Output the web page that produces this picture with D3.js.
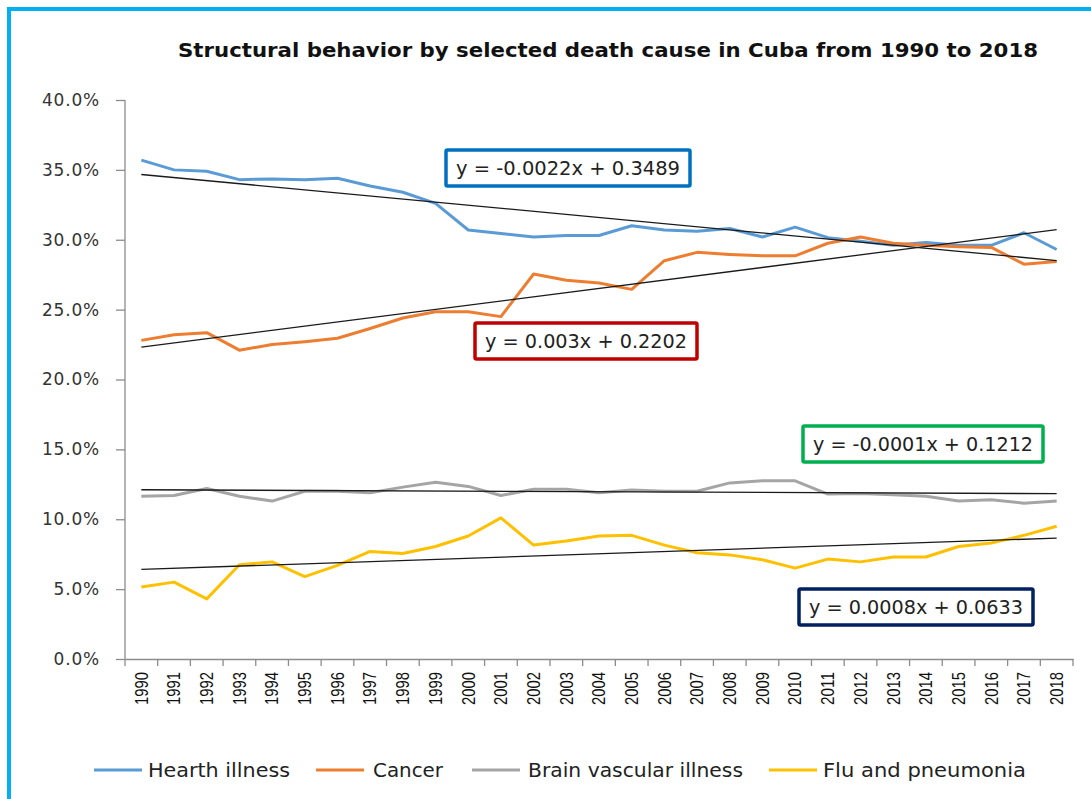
<!DOCTYPE html>
<html>
<head>
<meta charset="utf-8">
<script src="https://cdn.jsdelivr.net/npm/d3@7"></script>
<style>
  body { margin: 0; background: #fff; }
  svg { display: block; }
</style>
</head>
<body>
<svg id="chart"></svg>
<script>
const years = d3.range(1990, 2019).map(String);

const hearth = [35.7, 35.0, 34.9, 34.3, 34.35, 34.3, 34.4, 33.85, 33.4, 32.6,
  30.7, 30.45, 30.2, 30.3, 30.3, 31.0, 30.7, 30.6, 30.8, 30.2,
  30.9, 30.15, 29.9, 29.6, 29.8, 29.6, 29.6, 30.5, 29.3];
const cancer = [22.8, 23.2, 23.35, 22.1, 22.5, 22.7, 22.95, 23.65, 24.4, 24.85,
  24.85, 24.5, 27.55, 27.1, 26.9, 26.45, 28.5, 29.1, 28.95, 28.85,
  28.85, 29.75, 30.2, 29.75, 29.6, 29.5, 29.45, 28.25, 28.45];
const brain = [11.65, 11.7, 12.2, 11.65, 11.3, 12.0, 12.0, 11.9, 12.3, 12.65,
  12.35, 11.7, 12.15, 12.15, 11.9, 12.1, 12.0, 12.0, 12.6, 12.75,
  12.75, 11.8, 11.85, 11.75, 11.65, 11.3, 11.4, 11.15, 11.3];
const flu = [5.15, 5.5, 4.3, 6.75, 6.95, 5.9, 6.7, 7.7, 7.55, 8.05,
  8.8, 10.1, 8.15, 8.45, 8.8, 8.85, 8.15, 7.6, 7.45, 7.1,
  6.5, 7.15, 6.95, 7.3, 7.3, 8.05, 8.3, 8.85, 9.5];

const seriesNames = ["Hearth illness", "Cancer", "Brain vascular illness", "Flu and pneumonia"];
const seriesValues = [hearth, cancer, brain, flu];
const seriesColors = ["#5B9BD5", "#ED7D31", "#A5A5A5", "#FFC000"];

// linear trendlines as shown on the chart (x = 1..29)
const trendSlopes = [-0.0022, 0.003, -0.0001, 0.0008];
const trendIntercepts = [0.3489, 0.2202, 0.1212, 0.0633];
const equationLabels = ["y = -0.0022x + 0.3489", "y = 0.003x + 0.2202", "y = -0.0001x + 0.1212", "y = 0.0008x + 0.0633"];
const equationColors = ["#0070C0", "#C00000", "#00B050", "#002060"];

const yTicks = [0, 5, 10, 15, 20, 25, 30, 35, 40];

const width = 1091;
const height = 799;

const svg = d3.select('#chart')
  .attr('width', width)
  .attr('height', height);

// outer blue frame
svg.append('rect')
  .attr('x', 9).attr('y', 9)
  .attr('width', width + 20).attr('height', height + 20)
  .attr('fill', 'none')
  .attr('stroke', '#00B0F0')
  .attr('stroke-width', 4);

const x = d3.scaleBand().domain(years).range([125, 1073]);
const y = d3.scaleLinear().domain([0, 40]).range([659, 100]);
const xc = d => x(d) + x.bandwidth() / 2;

svg.append('text')
  .attr('x', 178).attr('y', 57)
  .attr('font-family', 'DejaVu Sans')
  .attr('font-weight', 'bold')
  .attr('font-size', 19)
  .attr('fill', '#111')
  .attr('textLength', 860)
  .attr('lengthAdjust', 'spacingAndGlyphs')
  .text('Structural behavior by selected death cause in Cuba from 1990 to 2018');

// y axis
const yAxis = svg.append('g')
  .attr('transform', 'translate(125,0)')
  .call(d3.axisLeft(y).tickValues(yTicks).tickSize(9).tickPadding(16)
    .tickFormat(d => d.toFixed(1) + '%'));
yAxis.selectAll('path, line').attr('stroke', '#8c8c8c').attr('stroke-width', 1.3);
yAxis.select('.domain').attr('d', 'M0,100V659');
yAxis.selectAll('text')
  .attr('font-family', 'DejaVu Sans')
  .attr('font-size', 17)
  .attr('fill', '#333')
  .attr('letter-spacing', 0.8);

// x axis
const xAxis = svg.append('g')
  .attr('transform', 'translate(0,659)')
  .call(d3.axisBottom(x).tickSize(0).tickSizeOuter(0));
xAxis.select('.domain').attr('stroke', '#8c8c8c').attr('stroke-width', 1.3);
xAxis.selectAll('.tick line').remove();
xAxis.selectAll('.tick text')
  .attr('transform', 'rotate(-90)')
  .attr('text-anchor', 'end')
  .attr('x', -13)
  .attr('y', 0)
  .attr('dy', '0.35em')
  .attr('font-family', 'Liberation Sans')
  .attr('font-size', 18)
  .attr('fill', '#111')
  .attr('textLength', 33)
  .attr('lengthAdjust', 'spacingAndGlyphs');
// tick marks at category boundaries
svg.append('g').selectAll('line')
  .data(years.concat(['end']))
  .enter().append('line')
  .attr('x1', (d, i) => i < years.length ? x(d) : x.range()[1])
  .attr('x2', (d, i) => i < years.length ? x(d) : x.range()[1])
  .attr('y1', 659).attr('y2', 666)
  .attr('stroke', '#8c8c8c').attr('stroke-width', 1.3);

// series lines
const line = d3.line()
  .x((d, i) => xc(years[i]))
  .y(d => y(d));

svg.append('g').selectAll('path')
  .data(seriesValues)
  .enter().append('path')
  .attr('d', line)
  .attr('fill', 'none')
  .attr('stroke', (d, i) => seriesColors[i])
  .attr('stroke-width', 3)
  .attr('stroke-linejoin', 'round');

// trendlines
svg.append('g').selectAll('line')
  .data(trendSlopes)
  .enter().append('line')
  .attr('x1', xc(years[0]))
  .attr('x2', xc(years[years.length - 1]))
  .attr('y1', (s, i) => y((s * 1 + trendIntercepts[i]) * 100))
  .attr('y2', (s, i) => y((s * years.length + trendIntercepts[i]) * 100))
  .attr('stroke', '#1a1a1a')
  .attr('stroke-width', 1.3);

// equation boxes
const eqBoxes = [
  { x: 446, y: 150, w: 244, h: 36 },
  { x: 475, y: 323, w: 222, h: 36 },
  { x: 803, y: 426, w: 240, h: 36 },
  { x: 799, y: 589, w: 234, h: 36 }
];
const eq = svg.append('g').selectAll('g')
  .data(equationLabels)
  .enter().append('g')
  .attr('transform', (d, i) => `translate(${eqBoxes[i].x},${eqBoxes[i].y})`);
eq.append('rect')
  .attr('width', (d, i) => eqBoxes[i].w)
  .attr('height', (d, i) => eqBoxes[i].h)
  .attr('fill', '#fff')
  .attr('stroke', (d, i) => equationColors[i])
  .attr('stroke-width', 3.5)
  .attr('rx', 1.5);
eq.append('text')
  .attr('x', 10)
  .attr('y', (d, i) => eqBoxes[i].h / 2 + 7)
  .attr('font-family', 'DejaVu Sans')
  .attr('font-size', 19)
  .attr('fill', '#222')
  .attr('textLength', (d, i) => eqBoxes[i].w - 20)
  .attr('lengthAdjust', 'spacingAndGlyphs')
  .text(d => d);

// legend
const legendPos = [
  { sx: 94, tx: 148, tw: 142 },
  { sx: 316, tx: 373, tw: 70 },
  { sx: 472, tx: 528, tw: 215 },
  { sx: 769, tx: 823, tw: 203 }
];
const legend = svg.append('g').selectAll('g')
  .data(seriesNames)
  .enter().append('g');
legend.append('line')
  .attr('x1', (d, i) => legendPos[i].sx)
  .attr('x2', (d, i) => legendPos[i].sx + 48)
  .attr('y1', 770).attr('y2', 770)
  .attr('stroke', (d, i) => seriesColors[i])
  .attr('stroke-width', 3);
legend.append('text')
  .attr('x', (d, i) => legendPos[i].tx)
  .attr('y', 777)
  .attr('font-family', 'DejaVu Sans')
  .attr('font-size', 19)
  .attr('fill', '#222')
  .attr('textLength', (d, i) => legendPos[i].tw)
  .attr('lengthAdjust', 'spacingAndGlyphs')
  .text(d => d);
</script>
</body>
</html>
